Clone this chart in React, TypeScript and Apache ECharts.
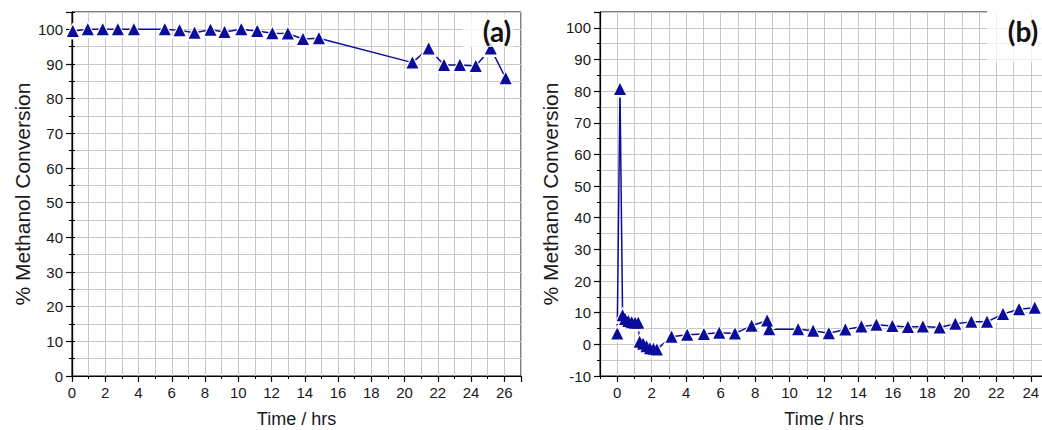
import React, { useEffect, useRef } from 'react';
import * as echarts from 'echarts';

// Panel (a)
const timeA = [0.05, 0.95, 1.85, 2.76, 3.72, 5.58, 6.47, 7.37, 8.33, 9.17, 10.18, 11.14, 12.05, 12.98, 13.89, 14.85, 20.47, 21.45, 22.37, 23.32, 24.28, 25.18, 26.08];
const convA = [99.5, 100, 100, 100, 100, 100, 99.7, 99.0, 99.9, 99.2, 100, 99.5, 98.9, 98.8, 97.2, 97.4, 90.4, 94.5, 89.7, 89.7, 89.4, 94.5, 85.9];

// Panel (b)
const timeB = [0, 0.16, 0.31, 0.45, 0.64, 0.84, 1.03, 1.22, 1.3, 1.5, 1.7, 1.9, 2.1, 2.3, 3.15, 4.06, 5.03, 5.92, 6.83, 7.8, 8.7, 8.82, 10.5, 11.37, 12.28, 13.24, 14.17, 15.04, 15.97, 16.87, 17.74, 18.71, 19.62, 20.55, 21.46, 22.39, 23.32, 24.23];
const convB = [3.4, 80.7, 9.2, 8.0, 7.4, 7.0, 6.8, 6.8, 0.8, 0.2, -0.6, -1.2, -1.4, -1.6, 2.4, 3.0, 3.3, 3.7, 3.4, 5.9, 7.5, 4.8, 4.8, 4.3, 3.5, 4.7, 5.6, 6.2, 5.8, 5.5, 5.6, 5.3, 6.5, 7.1, 7.1, 9.6, 11.1, 11.6];

const xTitle = 'Time / hrs';
const yTitle = '% Methanol Conversion';
const panelLabels = ['(a)', '(b)'];

const COLOR = '#0c0c9c';
const FONT = '"Liberation Sans", Arial, sans-serif';
const GRID_COLOR = '#c8c8c8';

function minorAxis(gridIndex: number, min: number, max: number, interval: number, labelStep: number, extra: any = {}) {
  return {
    type: 'value',
    gridIndex,
    min,
    max,
    interval,
    axisLine: { show: true, onZero: false, lineStyle: { color: '#000', width: 1.2 } },
    axisTick: { show: true, inside: false, length: 3, lineStyle: { color: '#000', width: 1 } },
    axisLabel: {
      show: true,
      formatter: (v: number) => (Math.abs(Math.round(v) % labelStep) === 0 ? String(Math.round(v)) : ''),
      fontSize: 15,
      color: '#1a1a1a',
      fontFamily: FONT,
      margin: 9,
      showMinLabel: true,
      showMaxLabel: true,
    },
    splitLine: { show: true, lineStyle: { color: GRID_COLOR, width: 1 } },
    ...extra,
  };
}

function majorAxis(gridIndex: number, min: number, max: number, interval: number, extra: any = {}) {
  return {
    type: 'value',
    gridIndex,
    min,
    max,
    interval,
    axisLine: { show: false, onZero: false },
    axisTick: { show: true, inside: false, length: 6, lineStyle: { color: '#000', width: 1.2 } },
    axisLabel: { show: false },
    splitLine: { show: false },
    ...extra,
  };
}

export default function App() {
  const ref = useRef<HTMLDivElement>(null);
  useEffect(() => {
    const chart = echarts.init(ref.current!, null, { renderer: 'svg' });
    const nameX = { fontSize: 18, color: '#1a1a1a', fontFamily: FONT };
    const nameY = { fontSize: 21, color: '#1a1a1a', fontFamily: FONT };
    const lineSeries = (xi: number, yi: number, data: number[][]) => [
      {
        type: 'line', xAxisIndex: xi, yAxisIndex: yi, data,
        symbol: 'triangle', symbolSize: 17, clip: false,
        lineStyle: { color: COLOR, width: 1.5 },
        itemStyle: { color: '#ffffff' },
        z: 5,
      },
      {
        type: 'scatter', xAxisIndex: xi, yAxisIndex: yi, data,
        symbol: 'triangle', symbolSize: 12, clip: false,
        itemStyle: { color: COLOR, opacity: 1 },
        z: 6,
      },
    ];
    const gridBase = { top: 12, bottom: 54, outerBoundsMode: 'none', containLabel: false };
    const option: any = {
      animation: false,
      grid: [
        { ...gridBase, left: 72, right: 521, show: true, borderColor: '#000', borderWidth: 1, backgroundColor: 'transparent' },
        { ...gridBase, left: 600, right: -6, show: true, borderColor: '#000', borderWidth: 1, backgroundColor: 'transparent' },
        { ...gridBase, left: 600 + 448 / 26, right: -6, show: false },
      ],
      xAxis: [
        minorAxis(0, 0, 27, 1, 2, { position: 'bottom', name: xTitle, nameLocation: 'middle', nameGap: 34, nameTextStyle: nameX }),
        majorAxis(0, 0, 27, 2, { position: 'bottom' }),
        minorAxis(1, -1, 25, 1, 2, { position: 'bottom', name: xTitle, nameLocation: 'middle', nameGap: 34, nameTextStyle: nameX }),
        majorAxis(2, 0, 25, 2, { position: 'bottom' }),
      ],
      yAxis: [
        minorAxis(0, 0, 105, 5, 10, { position: 'left', name: yTitle, nameLocation: 'middle', nameGap: 39, nameRotate: 90, nameTextStyle: nameY }),
        majorAxis(0, 0, 105, 10, { position: 'left' }),
        {
          type: 'value', gridIndex: 0, min: 0, max: 105, interval: 5, position: 'right',
          axisLine: { show: true, lineStyle: { color: '#000', width: 1.2 } },
          axisTick: { show: true, inside: false, length: 3, lineStyle: { color: '#000' } },
          axisLabel: { show: false }, splitLine: { show: false },
        },
        minorAxis(1, -10, 105, 5, 10, { position: 'left', name: yTitle, nameLocation: 'middle', nameGap: 39, nameRotate: 90, nameTextStyle: nameY }),
        majorAxis(1, -10, 105, 10, { position: 'left' }),
        { type: 'value', gridIndex: 2, min: -10, max: 105, show: false },
      ],
      series: [
        ...lineSeries(0, 0, timeA.map((t, i) => [t, convA[i]])),
        ...lineSeries(2, 3, timeB.map((t, i) => [t, convB[i]])),
      ],
      graphic: [
        { type: 'rect', z: 100, shape: { x: 463, y: 14, width: 50, height: 33 }, style: { fill: 'rgba(255,255,255,0.8)' } },
        { type: 'text', z: 101, x: 497, y: 31, style: { text: panelLabels[0], font: 'bold 28px Lato, "Open Sans", sans-serif', fill: '#111', align: 'center', verticalAlign: 'middle' } },
        { type: 'rect', z: 100, shape: { x: 987, y: 6, width: 60, height: 56 }, style: { fill: 'rgba(255,255,255,0.7)' } },
        { type: 'rect', z: 100, shape: { x: 987, y: 10, width: 60, height: 4 }, style: { fill: '#fff' } },
        { type: 'text', z: 101, x: 1023, y: 31, style: { text: panelLabels[1], font: 'bold 28px Lato, "Open Sans", sans-serif', fill: '#111', align: 'center', verticalAlign: 'middle' } },
      ],
    };
    chart.setOption(option);
    return () => chart.dispose();
  }, []);
  return <div ref={ref} style={{ position: 'absolute', left: 0, top: 0, width: 1042, height: 430, background: '#fff' }} />;
}
